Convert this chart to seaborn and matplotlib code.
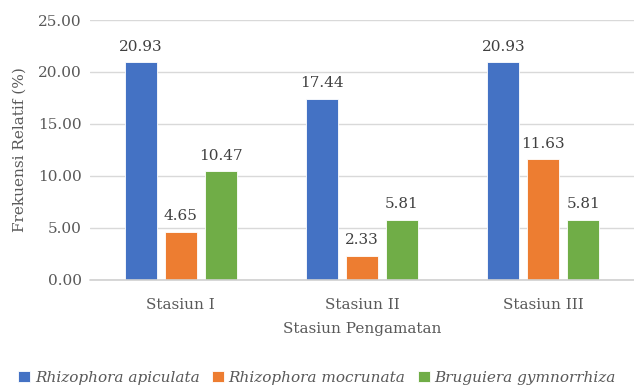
import pandas as pd
import seaborn as sns
import matplotlib.pyplot as plt

# data
stasiun = ["Stasiun I", "Stasiun II", "Stasiun III"]
spesies = ["Rhizophora apiculata", "Rhizophora mocrunata", "Bruguiera gymnorrhiza"]
r_apiculata = [20.93, 17.44, 20.93]
r_mocrunata = [4.65, 2.33, 11.63]
b_gymnorrhiza = [10.47, 5.81, 5.81]

warna = ["#4472C4", "#ED7D31", "#70AD47"]

df = pd.DataFrame({
    "stasiun": stasiun * 3,
    "spesies": [spesies[0]] * 3 + [spesies[1]] * 3 + [spesies[2]] * 3,
    "nilai": r_apiculata + r_mocrunata + b_gymnorrhiza,
})

sns.set_style("white")
plt.rcParams["font.family"] = ["DejaVu Serif"]
abu = "#595959"
fs = 11

fig = plt.figure(figsize=(6.34, 3.85), dpi=100)
ax = fig.add_axes([0.142, 0.273, 0.858, 0.675])

sns.barplot(data=df, x="stasiun", y="nilai", hue="spesies", palette=warna,
            saturation=1, width=0.66, gap=0.2, edgecolor="white", linewidth=0.6,
            ax=ax, legend=True, zorder=3)

for c in ax.containers:
    ax.bar_label(c, fmt="%.2f", padding=6, fontsize=fs, color="#404040")

ax.set_ylim(0, 25)
ax.set_yticks([0, 5, 10, 15, 20, 25])
ax.set_yticklabels(["%.2f" % v for v in [0, 5, 10, 15, 20, 25]])
ax.set_xlim(-0.5, 2.5)
ax.grid(axis="y", color="#d9d9d9", linewidth=1, zorder=0)
ax.set_axisbelow(True)
ax.axhline(0, color="#d0d0d0", linewidth=1.2, zorder=4, clip_on=False)
for s in ax.spines.values():
    s.set_visible(False)
ax.tick_params(axis="y", length=0, labelsize=fs, labelcolor=abu, pad=6)
ax.tick_params(axis="x", length=0, labelsize=fs, labelcolor=abu, pad=13)
ax.set_ylabel("Frekuensi Relatif (%)", fontsize=fs, color=abu, labelpad=8)
ax.set_xlabel("Stasiun Pengamatan", fontsize=fs, color=abu, labelpad=7)

h, l = ax.get_legend_handles_labels()
ax.get_legend().remove()
fig.legend(h, l, loc="lower center", bbox_to_anchor=(0.5, -0.035), ncol=3,
           frameon=False, handlelength=0.8, handleheight=0.8, handletextpad=0.3,
           columnspacing=0.8, prop={"style": "italic", "size": fs},
           labelcolor=abu)

fig.savefig("out.png", dpi=100)
